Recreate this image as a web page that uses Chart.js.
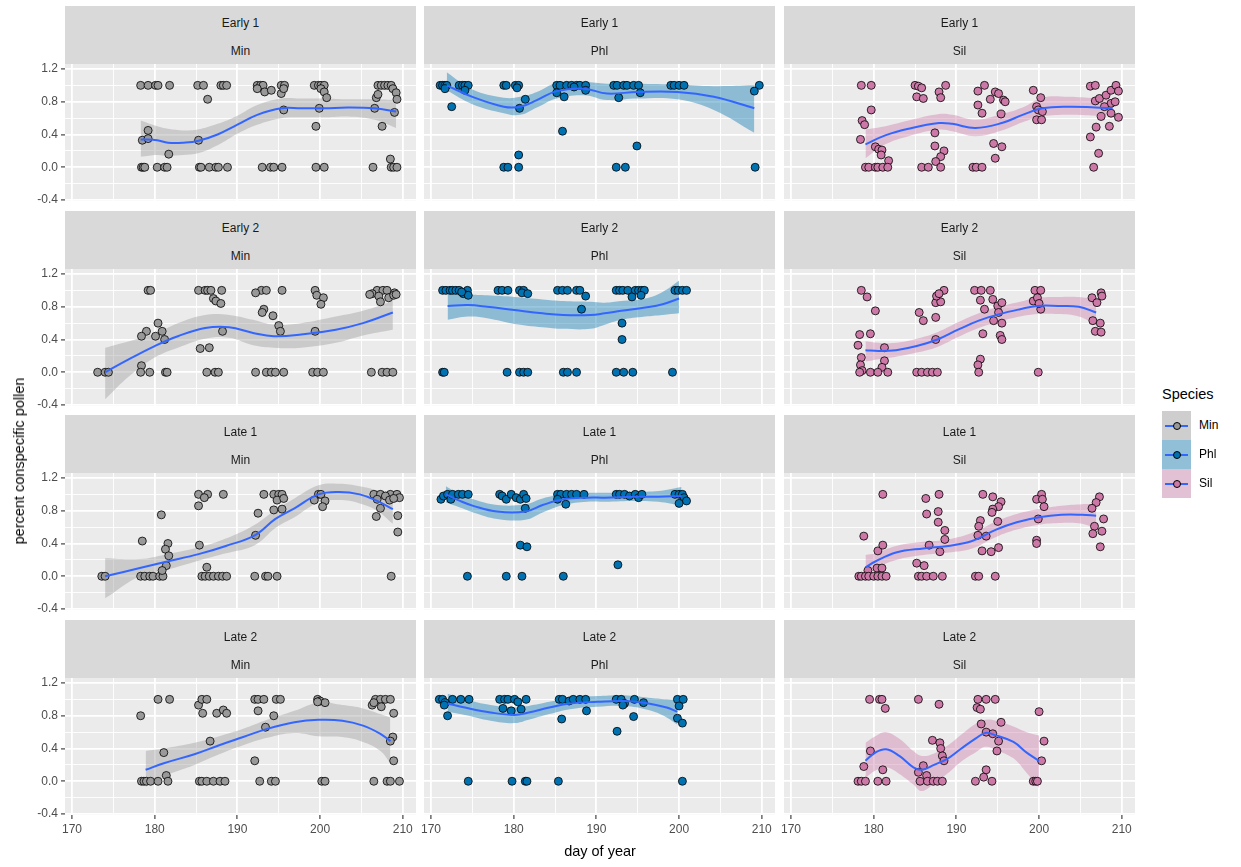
<!DOCTYPE html>
<html>
<head>
<meta charset="utf-8">
<script src="https://cdn.jsdelivr.net/npm/chart.js@4.4.1/dist/chart.umd.min.js"></script>
<style>
  body { margin: 0; background: #fff; font-family: "Liberation Sans", Arial, sans-serif; }
  #fig { position: relative; width: 1241px; height: 867px; overflow: hidden; }
  canvas { position: absolute; }
  .strip { position: absolute; background: #D9D9D9; color: #1A1A1A; font-size: 12px; }
  .strip span { position: absolute; left: 0; right: 0; text-align: center; line-height: 14px; }
  .title { position: absolute; color: #000; font-size: 14.5px; white-space: nowrap; }
  .key { position: absolute; width: 29px; height: 29px; background: #F2F2F2; }
  .key .rib { position: absolute; inset: 0; }
  .key .ln { position: absolute; left: 3px; width: 23px; top: 13.5px; height: 2px; background: #3366FF; }
  .key .pt { position: absolute; left: 11px; top: 11px; width: 6px; height: 6px; border: 0.8px solid #000; border-radius: 50%; }
  .klab { position: absolute; font-size: 12px; color: #000; line-height: 14px; }
</style>
</head>
<body>
<div id="fig"></div>
<script>
// facet labels
const groups = ["Early 1", "Early 2", "Late 1", "Late 2"];
const species = ["Min", "Phl", "Sil"];

// axis ticks (major ones get labels)
const xTicks = [170, 175, 180, 185, 190, 195, 200, 205, 210];
const yTicks = [-0.4, -0.2, 0, 0.2, 0.4, 0.6, 0.8, 1.0, 1.2];
const xRange = [169.15, 211.6];
const yRange = [-0.412, 1.261];

// points: [day, proportion]
const ptsE1Min = [[178.3,1],[179.2,1],[180.1,1],[180.4,1],[181.8,1],[185.2,1],[185.9,1],[188.0,1],[188.3,1],[188.7,1],[192.4,1],[192.8,1],[193.1,1],[195.3,1],[195.7,1],[199.3,1],[199.8,1],[200.1,1],[200.5,1],[207.0,1],[207.4,1],[207.8,1],[208.2,1],[208.6,1],
  [208.8,0.96],[192.4,0.96],[193.3,0.92],[194.1,0.94],[195.3,0.9],[195.6,0.96],[186.4,0.83],[209.2,0.91],[209.3,0.83],[209.0,0.67],[206.6,0.72],[206.8,0.85],[207.0,0.89],[207.5,0.5],[195.6,0.7],[199.9,0.72],[199.5,0.5],[200.1,0.96],[200.5,0.92],[200.8,0.85],
  [178.5,0.33],[179.2,0.45],[179.2,0.35],[185.3,0.33],[181.7,0.16],[208.5,0.1],
  [178.4,0],[178.6,0],[178.8,0],[180.3,0],[181.2,0],[181.5,0],[185.4,0],[185.6,0],[186.6,0],[187.4,0],[187.7,0],[188.8,0],[193.0,0],[194.0,0],[194.4,0],[195.4,0],[199.5,0],[200.5,0],[206.4,0],[208.6,0],[208.9,0],[209.3,0]];
const ptsE1Phl = [[171.1,1],[171.4,1],[171.7,1],[171.9,1],[173.4,1],[173.8,1],[174.1,1],[174.5,1],[178.8,1],[179.1,1],[180.2,1],[180.6,1],[185.2,1],[185.6,1],[186.4,1],[187.0,1],[187.6,1],[188.0,1],[188.7,1],[192.1,1],[192.5,1],[193.3,1],[193.7,1],[194.5,1],[195.1,1],[199.0,1],[199.4,1],[200.0,1],[200.6,1],[209.7,1],
  [171.7,0.96],[174.1,0.94],[180.4,0.97],[180.7,0.72],[181.4,0.83],[172.5,0.74],[185.2,0.91],[186.1,0.86],[187.3,0.98],[188.7,0.94],[192.7,0.85],[195.3,0.91],[209.1,0.93],[185.9,0.44],[194.9,0.26],[180.6,0.15],
  [178.8,0],[179.3,0],[180.6,0],[192.4,0],[193.5,0],[209.2,0]];
const ptsE1Sil = [[178.5,1],[179.7,1],[179.7,0.70],[178.6,0.57],[178.9,0.52],[178.4,0.34],[180.2,0.25],[180.6,0.22],[181.0,0.21],[180.9,0.15],[181.8,0.08],[179.0,0],[179.4,0],[180.2,0],[180.5,0],[181.1,0],[181.7,0],
  [185.0,1],[185.4,0.99],[185.8,0.97],[185.2,0.86],[186.0,0.84],[187.9,0.92],[188.1,0.85],[188.7,1],[187.4,0.42],[187.4,0.26],[188.5,0.2],[188.1,0.13],[187.5,0.07],[188.1,0],[185.8,0],[186.6,0],
  [192.6,0.93],[193.4,1],[192.6,0.76],[193.1,0.66],[194.1,0.83],[194.7,0.92],[195.1,0.9],[195.7,0.82],[195.9,0.8],[195.4,0.65],[194.5,0.29],[195.5,0.25],[194.7,0.11],[192.0,0],[192.4,0],[193.1,0],
  [199.3,0.94],[200.2,0.85],[199.7,0.74],[199.9,0.70],[200.4,0.68],[199.7,0.58],[200.3,0.58],
  [206.2,0.99],[206.8,1],[206.8,0.81],[207.3,0.84],[207.5,0.62],[206.9,0.49],[206.2,0.37],[207.2,0.17],[206.6,0],[208.1,0.88],[208.7,0.94],[209.3,1],[209.6,0.93],[208.7,0.78],[209.2,0.8],[208.7,0.66],[208.5,0.5],[209.6,0.61],[207.9,0.74]];
const ptsE2Min = [[179.2,1],[179.5,1],[185.3,1],[186.1,1],[186.4,1],[186.8,1],[188.1,1],[192.9,1],[193.5,1],[195.4,1],[199.4,1],[206.9,1],[207.6,1],[208.1,1],
  [187.1,0.9],[187.4,0.87],[188.0,0.84],[192.2,0.97],[193.2,0.77],[193.0,0.73],[194.3,0.69],[195.0,0.57],[195.2,0.5],[199.6,0.94],[200.4,0.91],[200.1,0.83],[199.4,0.5],[206.3,0.96],[209.0,0.97],[207.1,0.93],[207.3,0.86],[208.3,0.91],[208.9,0.94],[209.2,0.95],[206.0,0.95],
  [180.4,0.6],[179.0,0.5],[178.4,0.44],[180.1,0.44],[180.9,0.5],[181.2,0.4],[185.5,0.29],[186.6,0.3],[188.2,0.5],[178.4,0.08],
  [173.1,0],[174.0,0],[174.4,0],[178.3,0],[179.4,0],[181.3,0],[181.5,0],[186.3,0],[187.3,0],[187.7,0],[192.2,0],[193.5,0],[194.1,0],[194.6,0],[195.6,0],[199.1,0],[199.7,0],[200.4,0],[206.2,0],[207.5,0],[208.1,0],[208.8,0]];
const ptsE2Phl = [[171.4,1],[171.8,1],[172.3,1],[172.6,1],[173.0,1],[173.4,1],[174.4,1],[178.1,1],[178.6,1],[179.3,1],[180.7,1],[181.2,1],[185.3,1],[185.9,1],[186.5,1],[187.6,1],[188.0,1],[192.4,1],[192.8,1],[193.2,1],[193.8,1],[194.7,1],[195.1,1],[195.5,1],[195.8,1],[199.5,1],[199.9,1],[200.4,1],[200.9,1],
  [173.9,0.96],[174.5,0.94],[173.7,0.98],[181.0,0.97],[181.7,0.96],[188.7,0.93],[188.2,0.77],[194.3,0.92],[195.4,0.94],[193.1,0.6],[193.1,0.4],
  [171.4,0],[171.6,0],[179.2,0],[180.7,0],[181.2,0],[181.7,0],[186.0,0],[186.5,0],[187.6,0],[192.4,0],[193.3,0],[194.4,0],[199.2,0]];
const ptsE2Sil = [[178.5,1],[179.2,0.92],[180.2,0.75],[178.3,0.46],[179.6,0.47],[178.1,0.33],[178.5,0.18],[178.4,0.09],[178.6,0.02],[181.3,0.3],[181.3,0.14],[181.0,0.06],[178.3,0],[179.6,0],[180.5,0],[181.7,0],
  [185.5,0.73],[186.0,0.63],[187.5,0.67],[187.5,0.85],[188.1,0.86],[187.6,0.93],[188.5,1],[187.9,0.96],[187.5,0.4],[185.2,0],[185.8,0],[186.5,0],[187.1,0],[187.7,0],
  [192.2,1],[193.0,1],[194.1,1],[192.9,0.88],[194.4,0.89],[193.4,0.77],[195.0,0.81],[195.5,0.85],[195.1,0.73],[194.5,0.63],[195.5,0.6],[193.2,0.47],[195.3,0.45],[195.5,0.4],[192.9,0.16],[192.6,0.09],[192.7,0],
  [199.5,1],[200.2,1],[199.3,0.87],[199.8,0.91],[200.2,0.77],[200.0,0.84],[199.9,0],
  [206.4,0.91],[207.0,0.85],[207.5,0.97],[207.6,0.93],[206.5,0.63],[207.4,0.6],[206.8,0.5],[207.5,0.49]];
const ptsL1Min = [[173.6,0],[174.0,0],[178.3,0],[178.8,0],[179.4,0],[179.8,0],[180.6,0],[181.0,0],[185.7,0],[186.1,0],[186.6,0],[187.1,0],[187.7,0],[188.2,0],[188.7,0],[192.1,0],[193.4,0],[193.7,0],[194.8,0],[208.6,0],
  [178.5,0.43],[180.8,0.75],[181.6,0.4],[181.3,0.33],[181.7,0.25],[181.4,0.13],[180.9,0.07],[186.3,0.11],[185.4,0.38],[185.3,0.86],[185.3,1],[186.4,1],[186.0,0.96],[188.3,1],
  [192.2,0.5],[192.5,0.77],[193.2,1],[194.4,1],[195.0,1],[195.4,1],[194.8,0.93],[195.6,0.95],[194.4,0.81],[195.4,0.82],
  [199.8,1],[200.1,1],[199.3,0.93],[200.6,0.92],[200.3,0.85],
  [206.5,1],[207.3,1],[208.5,1],[209.3,1],[209.6,0.96],[206.9,0.94],[207.9,0.98],[207.3,0.83],[206.8,0.73],[209.4,0.74],[209.4,0.54],[208.4,0.93],[208.9,0.95]];
const ptsL1Phl = [[171.2,0.94],[171.5,0.98],[172.0,1],[172.4,0.94],[172.6,1],[173.3,1],[173.8,1],[174.5,1],[178.3,1],[178.6,0.98],[179.1,0.94],[179.7,1],[180.3,0.96],[180.8,0.94],[181.2,1],[181.5,0.95],[181.4,0.83],[180.8,0.38],[181.6,0.36],
  [185.3,1],[185.7,1],[186.4,1],[187.0,1],[187.6,1],[188.5,1],[186.3,0.88],[185.3,0.94],
  [174.4,0],[179.1,0],[181.0,0],[186.0,0],
  [192.4,1],[192.8,1],[193.4,1],[194.0,0.98],[194.7,1],[195.1,0.96],[195.5,1],[199.5,1],[200.0,1],[200.4,1],[200.6,0.96],[200.0,0.89],[200.9,0.92],[192.6,0.14]];
const ptsL1Sil = [[181.1,1],[178.8,0.49],[180.5,0.31],[181.1,0.38],[179.3,0.07],[180.4,0.1],[181.0,0.1],[178.2,0],[178.5,0],[179.0,0],[179.4,0],[180.0,0],[180.5,0],[181.0,0],[181.5,0],
  [186.3,0.95],[187.9,1],[186.4,0.76],[187.8,0.79],[187.8,0.66],[188.6,0.56],[188.6,0.45],[186.7,0.38],[188.0,0.3],[185.2,0.16],[186.1,0.13],[185.4,0],[185.8,0],[186.4,0],[187.2,0],[188.3,0],
  [193.2,1],[194.4,0.97],[195.4,0.91],[195.1,0.85],[194.4,0.82],[194.3,0.78],[195.0,0.67],[192.9,0.68],[192.7,0.61],[192.6,0.5],[193.6,0.49],[195.1,0.35],[193.1,0.31],[194.2,0.3],[192.3,0],[192.7,0],[194.7,0],
  [200.3,1],[199.7,0.94],[200.4,0.94],[200.6,0.85],[199.9,0.7],[199.7,0.44],[199.7,0.4],
  [207.3,0.97],[206.9,0.9],[206.4,0.83],[207.8,0.7],[206.7,0.61],[207.6,0.55],[206.5,0.52],[207.4,0.36]];
const ptsL2Min = [[178.3,0.8],[180.4,1],[181.8,1],[181.1,0.35],[181.4,0.07],[178.4,0],[178.7,0],[179.0,0],[179.5,0],[180.4,0],[181.6,0],
  [185.3,0.93],[185.7,1],[186.3,1],[185.8,0.83],[187.5,0.83],[188.3,0.87],[188.7,0.83],[186.7,0.49],[185.4,0],[185.7,0],[186.3,0],[187.1,0],[187.9,0],[188.5,0],
  [192.1,1],[192.5,1],[193.2,1],[194.7,1],[195.2,1],[192.5,0.86],[194.4,0.8],[193.4,0.66],[192.1,0.25],[192.7,0],[194.1,0],[194.6,0],
  [199.7,1],[200.0,0.98],[200.6,0.96],[199.7,0.97],[200.2,0],[200.6,0],
  [206.3,0.93],[206.7,1],[207.3,1],[207.9,1],[208.5,1],[206.5,0.96],[207.4,0.91],[208.9,0.83],[208.8,0.54],[208.5,0.49],[208.9,0.25],[206.5,0],[208.1,0],[208.5,0],[209.6,0]];
const ptsL2Phl = [[171.0,1],[171.4,1],[171.7,0.96],[171.6,0.93],[172.0,0.8],[172.6,1],[173.6,1],[174.6,1],[178.3,1],[178.9,1],[179.3,1],[180.1,1],[180.5,0.97],[181.5,1],[178.7,0.89],[179.7,0.86],[180.9,0.88],
  [185.5,1],[185.9,1],[186.7,0.98],[187.2,1],[188.0,1],[188.7,1],[185.8,0.76],[188.8,0.86],[174.5,0],[179.8,0],[181.4,0],[181.6,0],[185.4,0],
  [192.4,1],[193.0,1],[193.4,0.95],[194.6,1],[195.7,0.96],[193.2,0.93],[194.5,0.79],[192.5,0.61],[199.8,1],[200.0,0.92],[200.5,1],[199.8,0.77],[200.4,0.71],[200.4,0]];
const ptsL2Sil = [[179.5,1],[180.7,1],[181.0,1],[181.4,0.89],[179.6,0.37],[178.8,0.18],[181.1,0.14],[178.1,0],[178.5,0],[179.0,0],[180.5,0],[181.5,0],
  [185.4,1],[187.9,0.94],[187.1,0.5],[188.0,0.47],[188.1,0.4],[188.3,0.31],[188.5,0.25],[186.0,0.19],[185.4,0.11],[186.4,0.07],[185.6,0],[186.5,0],[187.2,0],[187.7,0],[188.3,0],
  [192.6,1],[193.6,1],[194.7,1],[192.5,0.9],[192.9,0.88],[193.0,0.7],[193.6,0.6],[194.4,0.58],[195.4,0.72],[195.1,0.49],[194.9,0.37],[193.6,0.14],[193.3,0.05],[192.3,0],[194.3,0],
  [200.0,0.85],[200.6,0.49],[200.3,0.25],[199.3,0],[199.6,0],[199.8,0]];

// loess fits: [day, fit, lower, upper]
const fitE1Min = [[178.3,0.34,0.13,0.57],[180.3,0.33,0.15,0.50],[181.6,0.30,0.14,0.47],[183.5,0.30,0.15,0.45],[185.2,0.32,0.17,0.46],[187.6,0.40,0.27,0.53],[190,0.52,0.41,0.63],[192.4,0.64,0.52,0.76],[195.3,0.72,0.60,0.84],[197.7,0.72,0.61,0.84],[200.5,0.72,0.61,0.84],[203.3,0.73,0.62,0.83],[206.6,0.72,0.58,0.83],[209.2,0.68,0.48,0.82]];
const fitE1Phl = [[171.9,1.0,0.94,1.16],[175,0.86,0.77,0.95],[178.8,0.74,0.66,0.85],[180.8,0.74,0.64,0.86],[182.8,0.82,0.73,0.92],[185.2,0.93,0.84,1.03],[188.5,0.96,0.88,1.04],[191.3,0.90,0.82,1.02],[194.9,0.92,0.84,1.02],[199.8,0.92,0.83,1.01],[204.2,0.86,0.70,0.99],[209.1,0.72,0.42,1.0]];
const fitE1Sil = [[179.0,0.28,0.11,0.46],[181.4,0.39,0.28,0.50],[184.2,0.47,0.38,0.57],[187.9,0.54,0.46,0.65],[189.5,0.53,0.44,0.64],[192.3,0.48,0.38,0.58],[195.5,0.54,0.45,0.65],[198,0.64,0.55,0.73],[200.4,0.72,0.62,0.85],[203.6,0.74,0.64,0.86],[206.8,0.73,0.63,0.84],[208.9,0.72,0.64,0.82]];
const fitE2Min = [[174,0.0,-0.33,0.30],[176.9,0.16,-0.05,0.38],[180,0.32,0.18,0.47],[182.8,0.44,0.30,0.60],[186.1,0.54,0.41,0.70],[189,0.55,0.42,0.70],[191.9,0.48,0.33,0.64],[194.4,0.44,0.30,0.58],[197.7,0.46,0.30,0.60],[201.9,0.52,0.36,0.68],[205.2,0.60,0.45,0.75],[208.8,0.73,0.52,0.87]];
const fitE2Phl = [[172,0.81,0.64,0.97],[174.5,0.82,0.68,0.95],[176.8,0.80,0.66,0.94],[180.1,0.76,0.59,0.92],[183.5,0.72,0.55,0.89],[186,0.70,0.53,0.87],[189.3,0.70,0.53,0.86],[191,0.72,0.58,0.85],[193,0.75,0.64,0.87],[195.9,0.79,0.68,0.90],[198,0.83,0.70,0.98],[200,0.90,0.72,1.12]];
const fitE2Sil = [[179,0.27,0.13,0.38],[180.6,0.26,0.16,0.36],[182.7,0.27,0.19,0.36],[185.2,0.32,0.24,0.41],[187.7,0.40,0.31,0.49],[190.2,0.52,0.43,0.61],[192.7,0.63,0.54,0.72],[195.2,0.71,0.62,0.80],[197.7,0.77,0.68,0.86],[199.8,0.81,0.71,0.91],[202.3,0.81,0.71,0.92],[204.8,0.80,0.68,0.92],[206.9,0.73,0.58,0.89]];
const fitL1Min = [[174,0,-0.27,0.22],[178.2,0.10,0.0,0.21],[181.5,0.18,0.08,0.27],[185.3,0.27,0.19,0.35],[188.6,0.37,0.28,0.46],[192.1,0.50,0.38,0.63],[194.6,0.70,0.59,0.81],[196.9,0.83,0.72,0.95],[199.8,1.0,0.90,1.11],[202.3,1.03,0.93,1.13],[204.8,1.0,0.89,1.10],[206.9,0.92,0.80,1.05],[208.8,0.82,0.64,1.0]];
const fitL1Phl = [[171.8,1.0,0.9,1.1],[173.5,0.92,0.84,1.0],[175.1,0.86,0.78,0.94],[178,0.79,0.70,0.87],[181.4,0.79,0.69,0.88],[183.5,0.87,0.78,0.95],[186,0.94,0.87,1.0],[188.9,0.96,0.91,1.02],[191,0.96,0.91,1.02],[194.7,0.97,0.92,1.03],[197.5,0.97,0.91,1.04],[200.3,0.98,0.86,1.09]];
const fitL1Sil = [[179,0.11,-0.02,0.26],[180.2,0.18,0.09,0.28],[182.7,0.29,0.20,0.37],[186,0.34,0.26,0.42],[189,0.37,0.29,0.45],[191.9,0.43,0.34,0.53],[194.8,0.57,0.48,0.67],[197.3,0.66,0.57,0.76],[200,0.72,0.63,0.82],[202.7,0.75,0.65,0.86],[205.2,0.75,0.64,0.88],[206.9,0.74,0.58,0.88]];
const fitL2Min = [[178.9,0.14,-0.07,0.37],[181.1,0.22,0.06,0.40],[184.8,0.33,0.20,0.47],[187.8,0.44,0.33,0.55],[190.7,0.54,0.44,0.64],[193.6,0.64,0.53,0.75],[196.9,0.72,0.59,0.86],[199.8,0.75,0.55,0.96],[202.7,0.74,0.54,0.93],[205.2,0.68,0.48,0.89],[207.3,0.58,0.37,0.82],[208.5,0.49,0.22,0.78]];
const fitL2Phl = [[172,0.95,0.85,1.07],[174.1,0.90,0.81,1.0],[177.2,0.84,0.74,0.93],[180.1,0.81,0.71,0.90],[181.8,0.84,0.75,0.92],[184.3,0.90,0.82,0.97],[186.8,0.95,0.88,1.02],[190.1,0.97,0.91,1.04],[193.4,0.98,0.92,1.05],[196.3,0.95,0.87,1.02],[198.5,0.90,0.78,1.0],[199.8,0.85,0.69,0.99]];
const fitL2Sil = [[179,0.25,0.04,0.47],[180.2,0.35,0.13,0.55],[181.5,0.39,0.17,0.60],[183.1,0.31,0.09,0.52],[184.8,0.17,-0.04,0.37],[185.8,0.14,-0.12,0.31],[187.3,0.20,-0.03,0.34],[189,0.28,0.10,0.44],[190.6,0.40,0.24,0.57],[192.3,0.52,0.35,0.70],[193.5,0.59,0.42,0.75],[194.8,0.56,0.38,0.74],[196.9,0.48,0.28,0.67],[198.5,0.35,0.10,0.60],[200,0.25,-0.08,0.56]];

const pointSets = [
  [ptsE1Min, ptsE1Phl, ptsE1Sil],
  [ptsE2Min, ptsE2Phl, ptsE2Sil],
  [ptsL1Min, ptsL1Phl, ptsL1Sil],
  [ptsL2Min, ptsL2Phl, ptsL2Sil]
];
const fitSets = [
  [fitE1Min, fitE1Phl, fitE1Sil],
  [fitE2Min, fitE2Phl, fitE2Sil],
  [fitL1Min, fitL1Phl, fitL1Sil],
  [fitL2Min, fitL2Phl, fitL2Sil]
];

// styles
const pointFill = { Min: "#999999", Phl: "#0072B2", Sil: "#CC79A7" };
const ribbonFill = { Min: "rgba(153,153,153,0.4)", Phl: "rgba(0,114,178,0.4)", Sil: "rgba(204,121,167,0.4)" };
const FONT = "'Liberation Sans', Arial, sans-serif";

// layout
const colLeft = [65, 424, 784];
const rowTop = [6, 211, 415, 620];
const panelW = 351, panelH = 137, stripH = 58;
const pad = 10; // room around each panel so edge labels are not clipped

const fig = document.getElementById("fig");

// panel background
const panelBg = {
  id: "panelBg",
  beforeDraw(chart) {
    const a = chart.chartArea, ctx = chart.ctx;
    ctx.save();
    ctx.fillStyle = "#EBEBEB";
    ctx.fillRect(a.left, a.top, a.right - a.left, a.bottom - a.top);
    ctx.restore();
  }
};

const isMajorX = v => v % 10 === 0;
const isMajorY = v => Math.round(v * 10) % 4 === 0;

function makePanel(r, c) {
  const sp = species[c];
  const pts = pointSets[r][c];
  const fit = fitSets[r][c];
  const yAxisW = c === 0 ? colLeft[0] : 0;
  const xAxisH = r === 3 ? 40 : 0;
  const padL = c === 0 ? 0 : pad;
  const padB = r === 3 ? 0 : pad;

  // strip
  const strip = document.createElement("div");
  strip.className = "strip";
  strip.style.left = colLeft[c] + "px";
  strip.style.top = rowTop[r] + "px";
  strip.style.width = panelW + "px";
  strip.style.height = stripH + "px";
  strip.innerHTML = `<span style="top:10px">${groups[r]}</span><span style="top:38px">${sp}</span>`;
  fig.appendChild(strip);

  const cv = document.createElement("canvas");
  cv.width = padL + yAxisW + panelW + pad;
  cv.height = pad + panelH + xAxisH + padB;
  cv.style.left = (colLeft[c] - yAxisW - padL) + "px";
  cv.style.top = (rowTop[r] + stripH - pad) + "px";
  fig.appendChild(cv);

  new Chart(cv, {
    type: "scatter",
    data: {
      datasets: [
        {
          type: "line",
          data: fit.map(d => ({ x: d[0], y: d[1] })),
          borderColor: "#3366FF",
          borderWidth: 2,
          pointRadius: 0,
          tension: 0.4,
          fill: false,
          order: 0
        },
        {
          type: "scatter",
          data: pts.map(d => ({ x: d[0], y: d[1] })),
          backgroundColor: pointFill[sp],
          borderColor: "#000000",
          borderWidth: 0.8,
          pointRadius: 4,
          order: 1
        },
        {
          type: "line",
          data: fit.map(d => ({ x: d[0], y: d[3] })),
          borderColor: "rgba(0,0,0,0)",
          borderWidth: 0,
          pointRadius: 0,
          tension: 0.4,
          fill: false,
          order: 2
        },
        {
          type: "line",
          data: fit.map(d => ({ x: d[0], y: d[2] })),
          borderColor: "rgba(0,0,0,0)",
          borderWidth: 0,
          pointRadius: 0,
          tension: 0.4,
          fill: "-1",
          backgroundColor: ribbonFill[sp],
          order: 3
        }
      ]
    },
    options: {
      responsive: false,
      animation: false,
      devicePixelRatio: 1,
      events: [],
      layout: { padding: { left: padL, right: pad, top: pad, bottom: padB }, autoPadding: false },
      plugins: { legend: { display: false }, tooltip: { enabled: false } },
      scales: {
        x: {
          type: "linear",
          min: xRange[0],
          max: xRange[1],
          afterBuildTicks: axis => { axis.ticks = xTicks.map(v => ({ value: v })); },
          afterFit: scale => {
            scale.height = xAxisH;
            scale.paddingLeft = 0; scale.paddingRight = 0;
          },
          border: { display: false },
          grid: {
            color: "#FFFFFF",
            lineWidth: ctx => (ctx.tick && isMajorX(ctx.tick.value) ? 1.8 : 0.9),
            drawTicks: r === 3,
            tickLength: 4,
            tickWidth: 1.1,
            tickColor: ctx => (ctx.tick && isMajorX(ctx.tick.value) ? "#333333" : "rgba(0,0,0,0)")
          },
          ticks: {
            display: r === 3,
            autoSkip: false,
            maxRotation: 0,
            padding: 3,
            color: "#4D4D4D",
            font: { family: FONT, size: 12 },
            callback: v => (isMajorX(v) ? String(v) : "")
          }
        },
        y: {
          type: "linear",
          min: yRange[0],
          max: yRange[1],
          afterBuildTicks: axis => { axis.ticks = yTicks.map(v => ({ value: v })); },
          afterFit: scale => {
            scale.width = yAxisW;
            scale.paddingTop = 0; scale.paddingBottom = 0;
          },
          border: { display: false },
          grid: {
            color: "#FFFFFF",
            lineWidth: ctx => (ctx.tick && isMajorY(ctx.tick.value) ? 1.8 : 0.9),
            drawTicks: c === 0,
            tickLength: 4,
            tickWidth: 1.1,
            tickColor: ctx => (ctx.tick && isMajorY(ctx.tick.value) ? "#333333" : "rgba(0,0,0,0)")
          },
          ticks: {
            display: c === 0,
            autoSkip: false,
            padding: 3,
            color: "#4D4D4D",
            font: { family: FONT, size: 12 },
            callback: v => (isMajorY(v) ? v.toFixed(1) : "")
          }
        }
      }
    },
    plugins: [panelBg]
  });
}

for (let r = 0; r < groups.length; r++) {
  for (let c = 0; c < species.length; c++) makePanel(r, c);
}

// axis titles
const xt = document.createElement("div");
xt.className = "title";
xt.textContent = "day of year";
xt.style.left = "600px";
xt.style.top = "843px";
xt.style.transform = "translateX(-50%)";
fig.appendChild(xt);

const yt = document.createElement("div");
yt.className = "title";
yt.textContent = "percent conspecific pollen";
yt.style.left = "19px";
yt.style.top = "461px";
yt.style.transform = "translate(-50%,-50%) rotate(-90deg)";
fig.appendChild(yt);

// legend
const lt = document.createElement("div");
lt.className = "title";
lt.textContent = "Species";
lt.style.left = "1162px";
lt.style.top = "386px";
fig.appendChild(lt);

species.forEach((sp, i) => {
  const k = document.createElement("div");
  k.className = "key";
  k.style.left = "1162px";
  k.style.top = (411 + i * 29) + "px";
  k.innerHTML = `<div class="rib" style="background:${ribbonFill[sp]}"></div><div class="ln"></div><div class="pt" style="background:${pointFill[sp]}"></div>`;
  fig.appendChild(k);
  const lab = document.createElement("div");
  lab.className = "klab";
  lab.textContent = sp;
  lab.style.left = "1199px";
  lab.style.top = (418 + i * 29) + "px";
  fig.appendChild(lab);
});
</script>
</body>
</html>
